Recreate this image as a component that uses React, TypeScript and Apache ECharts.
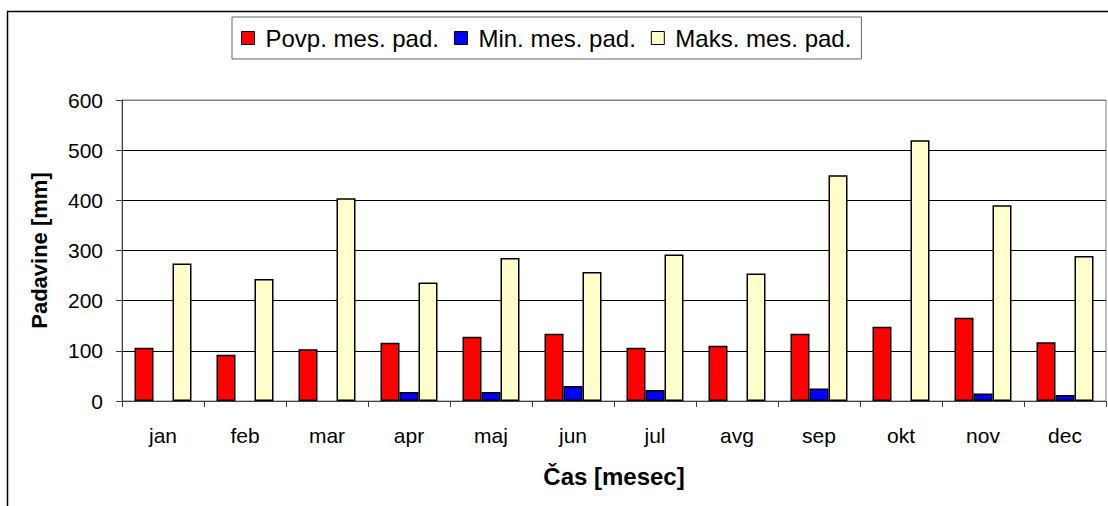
import React, { useEffect, useRef } from "react";
import * as echarts from "echarts";

const months = ["jan", "feb", "mar", "apr", "maj", "jun", "jul", "avg", "sep", "okt", "nov", "dec"];
const avgPrecip = [106, 92, 103, 116, 128, 134, 106, 110, 134, 148, 166, 117];
const minPrecip: (number | null)[] = [null, null, null, 18, 18, 30, 22, null, 25, null, 15, 12];
const maxPrecip = [274, 243, 404, 236, 285, 257, 292, 254, 450, 520, 390, 289];
const seriesNames = ["Povp. mes. pad.", "Min. mes. pad.", "Maks. mes. pad."];
const seriesColors = ["#FF0000", "#0000FF", "#FFFFCC"];

const FONT = "'Liberation Sans', Arial, sans-serif";

export default function App() {
  const ref = useRef<HTMLDivElement>(null);
  useEffect(() => {
    if (!ref.current) return;
    const chart = echarts.init(ref.current, undefined, { renderer: "svg" });
    const dataSets = [avgPrecip, minPrecip, maxPrecip];
    chart.setOption({
      animation: false,
      backgroundColor: "#ffffff",
      textStyle: { fontFamily: FONT },
      graphic: [
        {
          type: "rect",
          shape: { x: 7.5, y: 11.5, width: 1300, height: 700 },
          style: { fill: "none", stroke: "#000", lineWidth: 1.5 },
          silent: true,
        },
      ],
      legend: {
        left: 232,
        top: 17,
        padding: [9, 10, 9, 9],
        itemWidth: 13,
        itemHeight: 13,
        itemGap: 15,
        icon: "rect",
        borderColor: "#666",
        borderWidth: 1,
        textStyle: { fontFamily: FONT, fontSize: 24, color: "#000", padding: [0, 0, 0, 6] },
        data: seriesNames.map((n, i) => ({
          name: n,
          itemStyle: { color: seriesColors[i], borderColor: "#000", borderWidth: 1 },
        })),
      },
      grid: {
        left: 122,
        top: 100,
        right: 2,
        bottom: 105,
        show: true,
        borderColor: "#808080",
        borderWidth: 1,
        backgroundColor: "transparent",
      },
      xAxis: {
        type: "category",
        data: months,
        name: "Čas [mesec]",
        nameLocation: "middle",
        nameGap: 63,
        nameTextStyle: { fontFamily: FONT, fontSize: 24, fontWeight: "bold", color: "#000" },
        axisLine: { lineStyle: { color: "#404040", width: 1 } },
        axisTick: { show: true, inside: false, length: 6, lineStyle: { color: "#404040" } },
        axisLabel: { fontFamily: FONT, fontSize: 21, color: "#000", margin: 24 },
      },
      yAxis: {
        type: "value",
        min: 0,
        max: 600,
        interval: 100,
        name: "Padavine [mm]",
        nameLocation: "middle",
        nameRotate: 90,
        nameGap: 72,
        nameTextStyle: { fontFamily: FONT, fontSize: 22, fontWeight: "bold", color: "#000" },
        axisLine: { show: true, lineStyle: { color: "#404040", width: 1 } },
        axisTick: { show: true, inside: false, length: 6, lineStyle: { color: "#404040" } },
        axisLabel: { fontFamily: FONT, fontSize: 21, color: "#000", margin: 19 },
        splitLine: {
          show: true,
          lineStyle: { color: ["#000", "#000", "#000", "#000", "#000", "#000", "#808080"], width: 1 },
        },
      },
      series: dataSets.map((d, i) => ({
        name: seriesNames[i],
        type: "bar",
        data: d,
        barWidth: 19,
        barGap: "0%",
        itemStyle: { color: seriesColors[i], borderColor: "#000", borderWidth: 1.5 },
      })),
    });
    return () => chart.dispose();
  }, []);
  return (
    <div
      ref={ref}
      style={{ position: "absolute", left: 0, top: 0, width: 1108, height: 506 }}
    />
  );
}
